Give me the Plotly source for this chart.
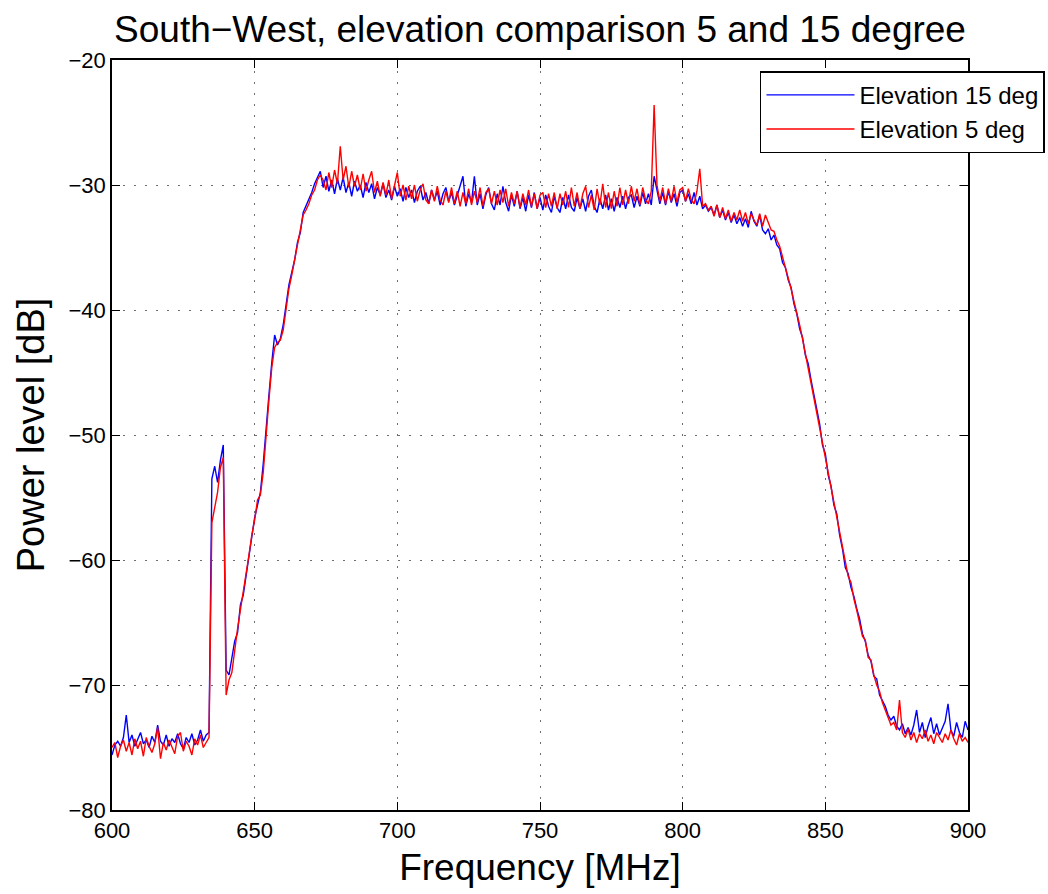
import numpy as np
import plotly.graph_objects as go

# Frequency grid [MHz]
freq = list(range(600, 901))

# Elevation 15 deg (blue), dB, one value per MHz from 600 to 900
elev15 = [
    -75.6, -74.8, -74.5, -74.9, -74.2, -72.4, -74.6, -74.0, -74.9, -74.3,  # 600-609
    -73.8, -74.7, -74.4, -75.0, -74.1, -74.6, -73.2, -74.5, -74.8, -74.0,  # 610-619
    -74.9, -74.3, -74.6, -73.9, -74.7, -75.1, -74.2, -74.6, -73.9, -74.8,  # 620-629
    -74.4, -73.6, -74.5, -74.0, -73.8, -53.5, -52.5, -53.8, -52.0, -50.8,  # 630-639
    -68.8, -69.2, -68.0, -66.5, -65.8, -63.6, -62.8, -61.2, -59.8, -58.2,  # 640-649
    -56.6, -55.6, -54.6, -52.3, -49.2, -46.8, -44.2, -42.0, -42.8, -42.3,  # 650-659
    -41.2, -39.6, -38.0, -37.0, -36.0, -34.6, -33.8, -32.2, -31.7, -31.2,  # 660-669
    -30.6, -29.9, -29.4, -28.9, -30.2, -29.3, -30.5, -29.6, -30.7, -29.5,  # 670-679
    -30.4, -29.4, -30.6, -29.8, -30.9, -29.7, -30.5, -30.0, -31.0, -29.8,  # 680-689
    -30.6, -29.9, -31.1, -30.2, -30.8, -29.9, -31.0, -30.4, -31.2, -30.1,  # 690-699
    -30.9, -30.3, -31.3, -30.2, -31.0, -30.4, -31.4, -30.5, -30.1, -31.2,  # 700-709
    -30.6, -31.5, -30.4, -31.2, -30.5, -31.6, -30.7, -30.2, -31.3, -30.6,  # 710-719
    -31.6, -30.8, -30.0, -29.3, -31.7, -30.7, -31.4, -29.3, -31.6, -30.7,  # 720-729
    -31.9, -30.8, -30.2, -31.5, -32.0, -30.7, -31.6, -30.1, -31.4, -32.1,  # 730-739
    -30.8, -31.7, -30.5, -31.9, -31.0, -32.1, -30.8, -31.8, -30.6, -31.9,  # 740-749
    -31.0, -32.0, -30.8, -31.7, -32.2, -30.9, -31.8, -32.2, -31.0, -31.9,  # 750-759
    -30.8, -31.8, -32.1, -31.0, -31.9, -31.1, -32.1, -30.9, -30.4, -31.7,  # 760-769
    -32.2, -31.1, -31.9, -30.8, -32.0, -31.1, -32.1, -31.0, -31.8, -30.9,  # 770-779
    -31.9, -31.0, -30.8, -31.8, -30.9, -31.7, -30.6, -31.5, -30.7, -31.6,  # 780-789
    -29.3, -30.4, -31.5, -30.6, -31.6, -30.5, -31.4, -30.7, -31.7, -30.6,  # 790-799
    -30.4, -31.3, -30.7, -31.5, -30.6, -31.6, -30.9, -31.9, -31.6, -32.1,  # 800-809
    -31.8, -32.4, -31.6, -32.6, -32.0, -32.8, -32.2, -33.0, -32.4, -33.1,  # 810-819
    -32.6, -33.3, -32.7, -33.4, -32.1, -32.9, -33.3, -32.4, -33.6, -33.9,  # 820-829
    -33.5, -34.4, -34.0, -34.8, -35.1, -36.2, -36.6, -37.6, -38.2, -39.5,  # 830-839
    -40.3, -41.5, -42.2, -43.6, -44.3, -45.6, -46.8, -48.2, -49.1, -50.8,  # 840-849
    -51.5, -53.2, -54.1, -55.6, -56.3, -58.0, -59.1, -60.6, -61.1, -62.2,  # 850-859
    -62.9, -63.9, -64.7, -65.9, -66.5, -67.6, -68.1, -69.3, -69.5, -70.8,  # 860-869
    -71.2, -71.7, -72.4, -72.8, -72.5, -73.3, -73.6, -73.1, -73.9, -73.4,  # 870-879
    -74.0, -73.2, -72.0, -73.8, -73.0, -74.2, -73.3, -72.6, -73.9, -73.1,  # 880-889
    -74.0, -73.4, -72.9, -71.5, -73.6, -74.1, -73.0, -73.8, -74.2, -72.9,  # 890-899
    -73.6,                                                                 # 900
]

# Elevation 5 deg (red), dB
elev5 = [
    -75.0, -74.6, -75.8, -74.9, -74.4, -75.3, -74.6, -75.6, -74.3, -75.1,  # 600-609
    -74.5, -75.7, -74.2, -74.9, -75.4, -74.7, -73.4, -75.9, -74.6, -75.2,  # 610-619
    -74.4, -75.0, -75.5, -74.1, -73.8, -75.3, -74.5, -74.9, -75.6, -74.3,  # 620-629
    -74.8, -74.0, -75.0, -74.6, -74.2, -57.0, -55.8, -54.6, -52.6, -51.8,  # 630-639
    -70.8, -69.6, -69.0, -67.0, -65.5, -64.0, -62.6, -61.0, -59.6, -58.0,  # 640-649
    -56.8, -55.2, -54.8, -53.0, -49.8, -47.2, -44.6, -43.0, -42.6, -42.4,  # 650-659
    -41.6, -40.0, -38.3, -37.2, -36.0, -34.5, -33.6, -32.4, -32.0, -31.5,  # 660-669
    -30.8, -30.4, -29.6, -29.2, -29.6, -30.4, -29.0, -30.2, -28.8, -29.9,  # 670-679
    -26.9, -29.6, -28.5, -30.2, -28.9, -30.1, -29.2, -30.4, -29.1, -30.5,  # 680-689
    -29.6, -28.9, -30.6, -29.7, -30.9, -29.8, -30.8, -29.6, -31.1, -30.0,  # 690-699
    -29.0, -30.9, -30.0, -31.2, -30.1, -31.1, -30.0, -31.3, -30.4, -29.9,  # 700-709
    -31.2, -31.5, -30.4, -31.3, -30.1, -31.2, -31.6, -30.5, -31.4, -30.2,  # 710-719
    -31.5, -30.5, -31.7, -30.6, -31.5, -30.3, -31.6, -30.5, -31.4, -30.2,  # 720-729
    -31.7, -30.6, -30.3, -31.5, -30.5, -31.6, -30.4, -31.4, -30.3, -31.7,  # 730-739
    -30.6, -31.5, -30.5, -31.8, -30.7, -31.6, -30.4, -31.7, -30.7, -31.9,  # 740-749
    -30.8, -30.6, -31.8, -30.7, -31.7, -30.6, -31.9, -30.7, -31.6, -30.5,  # 750-759
    -31.8, -30.2, -31.7, -30.6, -31.9, -30.7, -30.1, -31.8, -30.8, -32.0,  # 760-769
    -30.3, -31.6, -29.9, -31.8, -30.6, -31.9, -30.5, -31.7, -30.2, -31.6,  # 770-779
    -30.4, -31.5, -30.1, -31.3, -30.3, -31.6, -30.2, -31.2, -31.5, -30.5,  # 780-789
    -23.6, -30.0, -31.3, -30.2, -31.5, -30.3, -31.3, -30.1, -31.4, -30.4,  # 790-799
    -30.2, -31.3, -30.3, -31.2, -31.5, -30.5, -28.7, -31.7, -31.5, -32.0,  # 800-809
    -31.7, -32.5, -31.6, -32.6, -31.8, -32.7, -32.0, -32.9, -32.2, -32.8,  # 810-819
    -32.0, -32.9, -32.2, -33.1, -32.3, -32.8, -33.2, -32.3, -33.3, -32.4,  # 820-829
    -33.0, -33.6, -33.7, -34.4, -34.9, -35.7, -36.5, -37.5, -38.3, -39.3,  # 830-839
    -40.2, -41.2, -42.3, -43.5, -44.6, -45.7, -46.9, -48.0, -49.4, -50.5,  # 840-849
    -51.6, -53.1, -54.1, -55.5, -56.6, -57.7, -59.0, -60.2, -61.3, -61.8,  # 850-859
    -63.1, -64.0, -65.2, -66.1, -66.4, -67.8, -68.0, -69.2, -70.0, -70.5,  # 860-869
    -71.4, -72.0, -72.6, -73.2, -73.0, -73.6, -71.2, -73.8, -74.2, -73.5,  # 870-879
    -74.4, -73.8, -74.6, -73.9, -74.3, -73.6, -74.5, -74.0, -74.7, -73.8,  # 880-889
    -74.2, -74.6, -73.9, -74.4, -73.6, -74.3, -74.8, -73.9, -74.5, -74.2,  # 890-899
    -74.6,                                                                 # 900
]

x_ticks = [600, 650, 700, 750, 800, 850, 900]
y_ticks = [-80, -70, -60, -50, -40, -30, -20]

FONT = "Liberation Sans, Arial, Helvetica, sans-serif"

fig = go.Figure()
fig.add_trace(go.Scatter(x=freq, y=elev15, mode="lines", name="Elevation 15 deg",
                         legendgroup="a", line=dict(color="rgb(0,0,255)", width=1.4)))
fig.add_trace(go.Scatter(x=freq, y=elev5, mode="lines", name="Elevation 5 deg",
                         legendgroup="b", line=dict(color="rgb(255,0,0)", width=1.4)))

axis_common = dict(
    showline=True, linecolor="black", linewidth=1.5, mirror="ticks",
    ticks="inside", ticklen=8, tickcolor="black", tickwidth=1,
    showgrid=True, gridcolor="rgb(110,110,110)", griddash="2px,9px", gridwidth=1,
    zeroline=False, tickfont=dict(family=FONT, size=22, color="black"),
    automargin=False,
)

fig.update_layout(
    width=1048, height=894,
    margin=dict(l=112, r=80, t=60, b=84, autoexpand=False),
    paper_bgcolor="white", plot_bgcolor="white",
    font=dict(family=FONT, color="black"),
    title=dict(text="South\u2212West, elevation comparison 5 and 15 degree",
               font=dict(family=FONT, size=37, color="black"),
               x=0.5, xref="paper", xanchor="center", y=0.968, yanchor="middle"),
    xaxis=dict(range=[600, 900], tickvals=x_ticks, **axis_common,
               title=dict(text="Frequency [MHz]", font=dict(family=FONT, size=37), standoff=12)),
    yaxis=dict(range=[-80, -20], tickvals=y_ticks, **axis_common,
               title=dict(text="Power level [dB]", font=dict(family=FONT, size=38), standoff=12)),
    legend=dict(x=0.757, y=0.985, xanchor="left", yanchor="top",
                bgcolor="white", bordercolor="black", borderwidth=1.5,
                font=dict(family=FONT, size=24, color="black"),
                itemwidth=88, tracegroupgap=12, traceorder="normal"),
    showlegend=True,
)

fig.write_html("out.html")
